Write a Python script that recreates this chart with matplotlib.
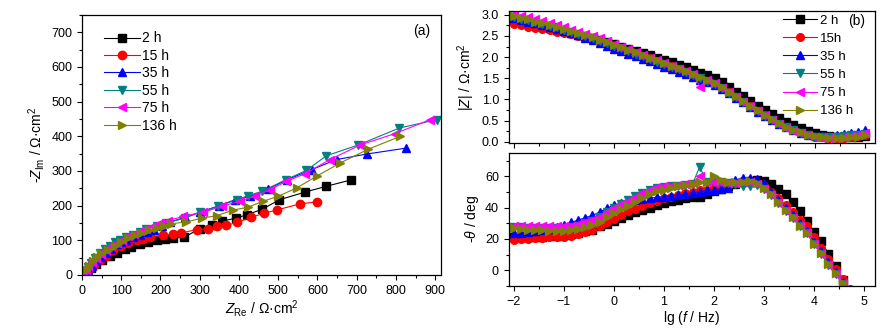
import matplotlib as mpl
mpl.use('Agg')
import matplotlib.pyplot as plt
from matplotlib.ticker import MultipleLocator

plt.rcParams['font.family'] = ['Liberation Sans', 'DejaVu Sans']
plt.rcParams['mathtext.fontset'] = 'custom'
plt.rcParams['mathtext.rm'] = 'Liberation Sans'
plt.rcParams['mathtext.it'] = 'Liberation Sans:italic'
plt.rcParams['font.size'] = 9

labels = ['2 h', '15 h', '35 h', '55 h', '75 h', '136 h']
labels_b = ['2 h', '15h', '35 h', '55 h', '75 h', '136 h']
colors = ['#000000', '#FF0000', '#0000FF', '#008080', '#FF00FF', '#808000']
markers = ['s', 'o', '^', 'v', '<', '>']

# Nyquist data (Z_re, -Z_im) in Ohm cm2
nyq_re_2h = [11, 22, 35, 52, 71, 88, 109, 126, 147, 168, 190, 211, 232, 260, 300, 331, 356, 392, 421, 460, 503, 568, 623, 685]
nyq_im_2h = [10, 20, 32, 44, 54, 63, 75, 81, 88, 94, 100, 104, 106, 109, 133, 145, 155, 164, 174, 190, 217, 239, 256, 274]
nyq_re_15h = [7, 18, 30, 45, 60, 79, 100, 117, 139, 156, 173, 207, 231, 253, 292, 322, 345, 368, 396, 430, 464, 498, 555, 600]
nyq_im_15h = [6, 16, 28, 42, 56, 71, 85, 92, 100, 105, 110, 114, 118, 121, 131, 133, 140, 143, 152, 166, 178, 188, 205, 211]
nyq_re_35h = [8, 15, 25, 37, 49, 62, 75, 88, 100, 113, 130, 147, 165, 183, 204, 224, 262, 300, 350, 390, 428, 475, 523, 585, 649, 726, 826]
nyq_im_35h = [8, 15, 27, 39, 51, 63, 76, 88, 95, 102, 109, 116, 124, 131, 142, 153, 166, 181, 200, 217, 227, 248, 275, 304, 333, 349, 366]
nyq_re_55h = [9, 16, 24, 34, 45, 58, 71, 83, 96, 112, 130, 147, 164, 190, 215, 262, 300, 347, 394, 424, 458, 520, 572, 623, 704, 809, 904]
nyq_im_55h = [11, 22, 35, 49, 63, 74, 85, 94, 102, 109, 116, 124, 133, 141, 150, 164, 181, 198, 217, 229, 241, 275, 302, 344, 375, 424, 448]
nyq_re_75h = [3, 9, 15, 25, 37, 49, 62, 75, 88, 102, 117, 132, 147, 164, 181, 200, 219, 258, 309, 356, 402, 441, 479, 521, 568, 632, 709, 798, 887]
nyq_im_75h = [6, 15, 25, 37, 49, 61, 73, 83, 92, 102, 112, 119, 126, 133, 140, 149, 157, 169, 181, 198, 213, 227, 246, 270, 292, 333, 375, 408, 448]
nyq_re_136h = [9, 18, 28, 38, 49, 66, 83, 100, 117, 134, 151, 170, 190, 209, 228, 266, 305, 343, 385, 424, 462, 500, 547, 598, 658, 730, 811]
nyq_im_136h = [15, 27, 39, 51, 63, 73, 83, 95, 107, 114, 121, 129, 136, 142, 148, 153, 164, 171, 187, 196, 213, 227, 251, 285, 323, 363, 400]

# Bode data: frequency grid lg(f/Hz)
lg_f = [-2.000, -1.857, -1.714, -1.571, -1.429, -1.286, -1.143, -1.000, -0.857, -0.714,
        -0.571, -0.429, -0.286, -0.143, 0.000, 0.143, 0.286, 0.429, 0.571, 0.714,
        0.857, 1.000, 1.143, 1.286, 1.429, 1.571, 1.714, 1.857, 2.000, 2.143,
        2.286, 2.429, 2.571, 2.714, 2.857, 3.000, 3.143, 3.286, 3.429, 3.571,
        3.714, 3.857, 4.000, 4.143, 4.286, 4.429, 4.571, 4.714, 4.857, 5.000]

modz_2h = [2.88, 2.85, 2.81, 2.77, 2.73, 2.69, 2.65, 2.61, 2.57, 2.53, 2.49, 2.45, 2.40, 2.35, 2.30, 2.25, 2.20, 2.15, 2.09, 2.04,
           1.98, 1.93, 1.88, 1.82, 1.76, 1.70, 1.63, 1.57, 1.50, 1.40, 1.29, 1.18, 1.07, 0.96, 0.85, 0.75, 0.65, 0.56, 0.47, 0.39,
           0.32, 0.26, 0.21, 0.17, 0.14, 0.12, 0.11, 0.11, 0.12, 0.14]
modz_15h = [2.78, 2.75, 2.72, 2.69, 2.66, 2.63, 2.60, 2.57, 2.54, 2.51, 2.47, 2.43, 2.38, 2.33, 2.27, 2.21, 2.15, 2.09, 2.03, 1.97,
            1.90, 1.84, 1.78, 1.72, 1.65, 1.58, 1.51, 1.44, 1.37, 1.27, 1.17, 1.06, 0.95, 0.84, 0.73, 0.62, 0.52, 0.43, 0.34, 0.27,
            0.21, 0.16, 0.12, 0.10, 0.09, 0.09, 0.09, 0.11, 0.13, 0.16]
modz_35h = [2.92, 2.88, 2.84, 2.80, 2.76, 2.71, 2.67, 2.62, 2.57, 2.52, 2.46, 2.40, 2.34, 2.27, 2.20, 2.14, 2.08, 2.02, 1.96, 1.90,
            1.83, 1.77, 1.71, 1.65, 1.59, 1.53, 1.47, 1.40, 1.34, 1.25, 1.15, 1.04, 0.93, 0.82, 0.71, 0.61, 0.51, 0.42, 0.34, 0.27,
            0.21, 0.17, 0.14, 0.13, 0.14, 0.16, 0.18, 0.20, 0.23, 0.27]
modz_55h = [2.95, 2.91, 2.87, 2.83, 2.79, 2.74, 2.70, 2.65, 2.60, 2.55, 2.50, 2.45, 2.39, 2.33, 2.27, 2.21, 2.15, 2.08, 2.02, 1.96,
            1.89, 1.83, 1.77, 1.71, 1.64, 1.57, 1.50, 1.43, 1.36, 1.26, 1.16, 1.05, 0.94, 0.83, 0.72, 0.61, 0.51, 0.42, 0.34, 0.27,
            0.21, 0.16, 0.12, 0.10, 0.10, 0.11, 0.13, 0.15, 0.17, 0.19]
modz_75h = [3.02, 2.98, 2.94, 2.89, 2.85, 2.80, 2.75, 2.70, 2.65, 2.60, 2.55, 2.50, 2.44, 2.38, 2.31, 2.25, 2.19, 2.12, 2.06, 1.99,
            1.93, 1.86, 1.80, 1.73, 1.66, 1.59, 1.30, 1.45, 1.38, 1.28, 1.17, 1.06, 0.95, 0.84, 0.73, 0.62, 0.52, 0.42, 0.33, 0.26,
            0.20, 0.15, 0.11, 0.09, 0.08, 0.08, 0.10, 0.13, 0.16, 0.20]
modz_136h = [2.97, 2.93, 2.89, 2.84, 2.80, 2.75, 2.71, 2.66, 2.62, 2.57, 2.52, 2.47, 2.41, 2.35, 2.29, 2.23, 2.17, 2.11, 2.05, 1.99,
             1.92, 1.86, 1.80, 1.74, 1.67, 1.60, 1.53, 1.46, 1.39, 1.29, 1.18, 1.07, 0.96, 0.85, 0.74, 0.63, 0.53, 0.44, 0.35, 0.28,
             0.22, 0.16, 0.13, 0.10, 0.09, 0.08, 0.08, 0.10, 0.12, 0.15]

phase_2h = [21, 21, 21.5, 21.5, 21.5, 22, 22, 22.5, 23, 24, 25, 26, 28, 29.5, 31.5, 33.5, 35, 37, 38.5, 40,
            41.5, 43, 44, 45, 46, 46.5, 47, 48.5, 50.5, 52, 53.5, 55, 56, 57, 57.5, 57, 55, 52, 48.5, 43.5,
            37.5, 31.5, 24.5, 18.5, 10.5, 2.5, -6, -14, -21, -28]
phase_15h = [19.5, 20, 20, 20.5, 20.5, 21, 21, 21.5, 22, 23, 24.5, 26, 28.5, 31, 33, 35.5, 37.5, 39, 41, 43,
             44.5, 46, 47, 48, 49, 50, 51, 51.5, 53, 53.5, 54.5, 55.5, 56, 56, 55.5, 53.5, 50, 46, 41.5, 37,
             32, 28, 21, 14.5, 7.5, 1, -5.5, -12, -19, -25]
phase_35h = [23.5, 24, 24.5, 25, 25.5, 26.5, 27.5, 29, 30.5, 32, 33.5, 35, 37, 39.5, 41.5, 43, 44, 45, 45.5, 46,
             46.5, 47, 47.5, 48, 48.5, 49.5, 50, 51, 51.5, 52, 52.5, 57.5, 59, 59, 58.5, 55.5, 50, 45, 40, 35,
             30, 25, 18, 12, 5, -1, -7.5, -14, -21, -27]
phase_55h = [27.5, 27.5, 27, 27, 27, 27, 27, 27, 27.5, 28.5, 30, 31.5, 34, 37, 39.5, 42, 45, 47.5, 49.5, 51,
             52.5, 53, 53.5, 54, 54.5, 55, 66, 56, 56, 56, 55.5, 55, 53.5, 53.5, 54.5, 52, 48, 43, 38, 33.5,
             28, 23.5, 16.5, 10.5, 3.5, -2.5, -8.5, -15, -22, -28]
phase_75h = [28.5, 28.5, 28.5, 28, 28, 28, 28, 28, 28.5, 29.5, 30.5, 32, 34, 37, 39.5, 42, 44.5, 47, 49.5, 51.5,
             53, 53.5, 54, 54.5, 55, 55.5, 60, 56.5, 56, 56, 55.5, 55.5, 56, 56.5, 55, 52, 48, 43, 38, 33.5,
             28, 23.5, 16.5, 10.5, 3.5, -2.5, -8.5, -15, -22, -28]
phase_136h = [27, 26.5, 26, 26, 25.5, 25, 25, 25, 25.5, 26.5, 27.5, 29, 31, 34, 36.5, 39, 41, 43.5, 46, 48.5,
              50.5, 51.5, 52.5, 53.5, 54.5, 55, 56, 56.5, 60, 57.5, 56.5, 56, 56.5, 57, 55.5, 52.5, 48.5, 43.5, 38.5, 34,
              28.5, 24, 17, 11, 4, -2, -8, -15, -22, -28]

nyq_re = [nyq_re_2h, nyq_re_15h, nyq_re_35h, nyq_re_55h, nyq_re_75h, nyq_re_136h]
nyq_im = [nyq_im_2h, nyq_im_15h, nyq_im_35h, nyq_im_55h, nyq_im_75h, nyq_im_136h]
modz = [modz_2h, modz_15h, modz_35h, modz_55h, modz_75h, modz_136h]
phase = [phase_2h, phase_15h, phase_35h, phase_55h, phase_75h, phase_136h]

fig = plt.figure(figsize=(8.94, 3.31), dpi=100)
ax1 = fig.add_axes([0.0917, 0.1692, 0.4016, 0.7855])
ax2 = fig.add_axes([0.569, 0.568, 0.410, 0.3988])
ax3 = fig.add_axes([0.569, 0.136, 0.410, 0.4027])


def style(ax):
    ax.tick_params(which='both', direction='out', labelsize=9)
    ax.tick_params(which='major', length=3.5, width=0.8)
    ax.tick_params(which='minor', length=2, width=0.8)
    for s in ax.spines.values():
        s.set_linewidth(0.9)


# (a) Nyquist
for i in range(6):
    ax1.plot(nyq_re[i], nyq_im[i], '-', marker=markers[i], color=colors[i], lw=0.8,
             ms=6, label=labels[i])
ax1.set_xlim(0, 915)
ax1.set_ylim(0, 750)
ax1.xaxis.set_major_locator(MultipleLocator(100))
ax1.xaxis.set_minor_locator(MultipleLocator(50))
ax1.yaxis.set_major_locator(MultipleLocator(100))
ax1.yaxis.set_minor_locator(MultipleLocator(50))
style(ax1)
ax1.set_xlabel(r'$Z_{\mathrm{Re}}$ / Ω·cm$^2$', fontsize=10, labelpad=1)
ax1.set_ylabel(r'-$Z_{\mathrm{Im}}$ / Ω·cm$^2$', fontsize=10, labelpad=3)
ax1.text(0.946, 0.94, '(a)', transform=ax1.transAxes, ha='center', va='center', fontsize=10)
ax1.legend(loc='upper left', bbox_to_anchor=(0.06, 0.937), frameon=False, fontsize=10,
           borderpad=0, borderaxespad=0, labelspacing=0.25, handlelength=2.6, handletextpad=0.2)

# (b) Bode modulus
for i in range(6):
    ax2.plot(lg_f, modz[i], '-', marker=markers[i], color=colors[i], lw=0.8,
             ms=5.5, label=labels_b[i])
ax2.set_xlim(-2.1, 5.2)
ax2.set_ylim(-0.03, 3.09)
ax2.xaxis.set_major_locator(MultipleLocator(1))
ax2.xaxis.set_minor_locator(MultipleLocator(0.5))
ax2.yaxis.set_major_locator(MultipleLocator(0.5))
ax2.yaxis.set_minor_locator(MultipleLocator(0.25))
style(ax2)
ax2.set_xticklabels([])
ax2.yaxis.set_major_formatter(mpl.ticker.FormatStrFormatter('%.1f'))
ax2.set_ylabel(r'|$Z$| / Ω·cm$^2$', fontsize=10, labelpad=3)
ax2.text(0.948, 0.924, '(b)', transform=ax2.transAxes, ha='center', va='center', fontsize=10)
ax2.legend(loc='upper right', bbox_to_anchor=(0.94, 0.975), frameon=False, fontsize=9.5,
           borderpad=0, borderaxespad=0, labelspacing=0.45, handlelength=2.6, handletextpad=0.2)

# (b) Bode phase
for i in range(6):
    ax3.plot(lg_f, phase[i], '-', marker=markers[i], color=colors[i], lw=0.8,
             ms=5.5)
ax3.set_xlim(-2.1, 5.22)
ax3.set_ylim(-10, 75)
ax3.xaxis.set_major_locator(MultipleLocator(1))
ax3.xaxis.set_minor_locator(MultipleLocator(0.5))
ax3.yaxis.set_major_locator(MultipleLocator(20))
ax3.yaxis.set_minor_locator(MultipleLocator(10))
style(ax3)
ax3.set_xlabel(r'lg ($f$ / Hz)', fontsize=10, labelpad=1)
ax3.set_ylabel(r'-$\theta$ / deg', fontsize=10, labelpad=3)

fig.savefig('out.png', dpi=100)
